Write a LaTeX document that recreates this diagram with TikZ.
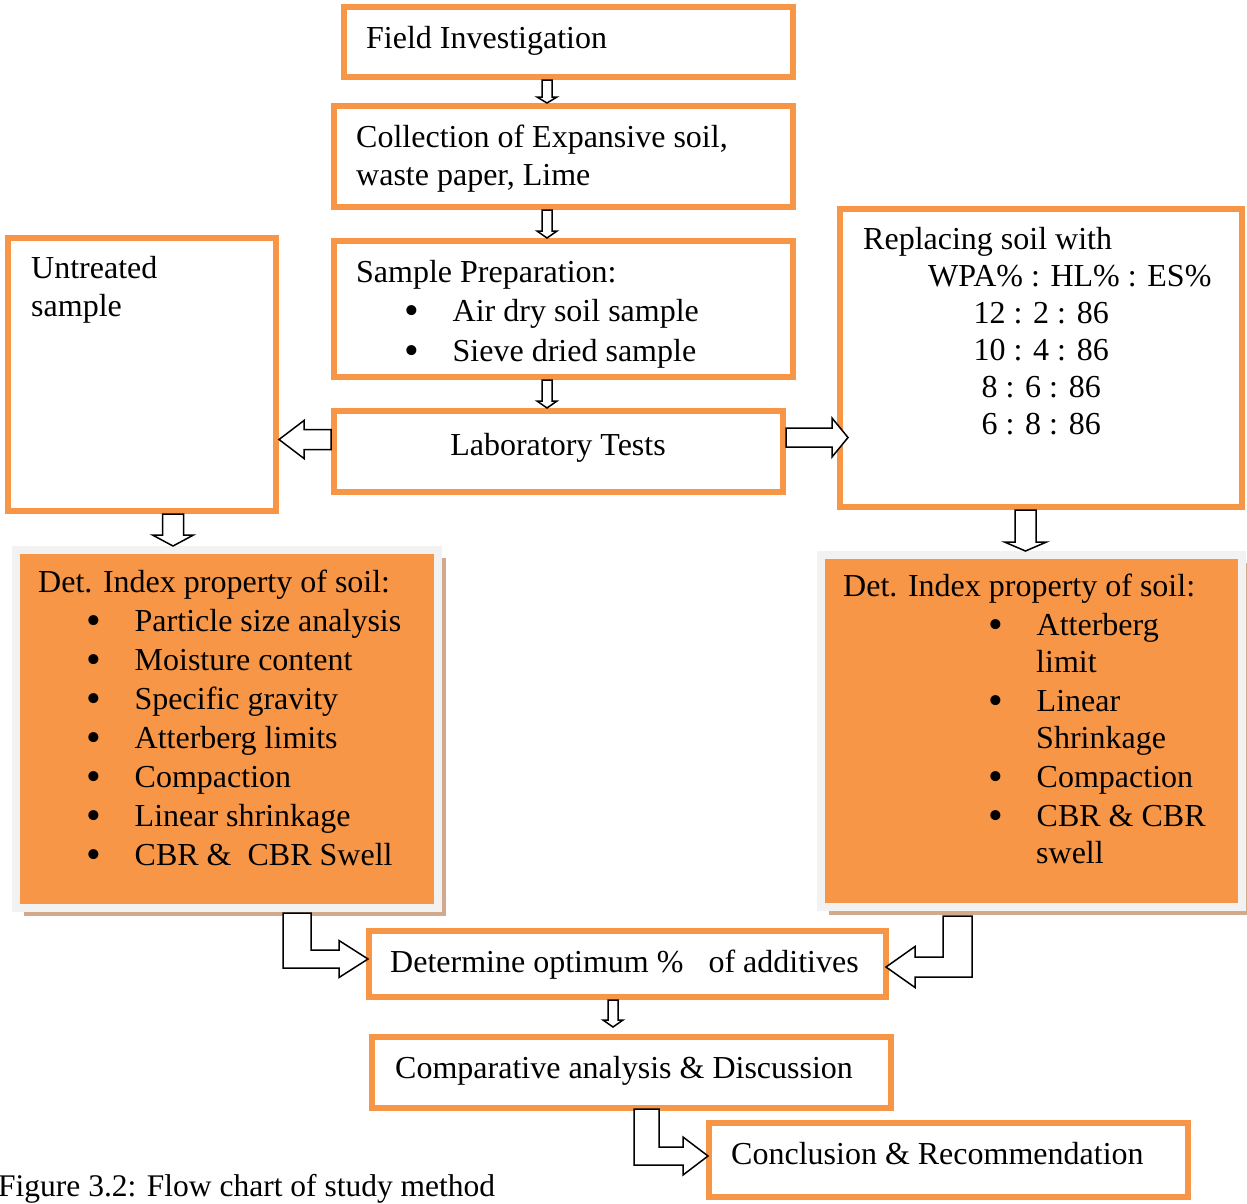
\documentclass[tikz,border=0pt]{standalone}
\usepackage{fontspec}
\setmainfont{Liberation Serif}
\usepackage{tikz}
\usetikzlibrary{calc,shadows}
\definecolor{boxorange}{HTML}{F79646}
\definecolor{framegray}{HTML}{F2F2F2}
\definecolor{shadowtan}{HTML}{D2A98C}
\tikzset{
  obox/.style={draw=boxorange,line width=6pt,inner sep=0pt},
  fbox/.style={draw=framegray,fill=boxorange,line width=8pt,inner sep=0pt,
    drop shadow={shadow xshift=8pt,shadow yshift=-8pt,fill=shadowtan,opacity=1}},
  txt/.style={anchor=base west,inner sep=0pt,align=left,font=\fontsize{32}{37}\selectfont},
  blockarrow/.style={draw=black,fill=white,line width=1.5pt,line join=miter}
}
\newcommand{\flowbox}[5][obox]{\node[#1,minimum width=#4,minimum height=#5] (#2) at (#3) {}}
\newcommand{\bul}[2][48pt]{\hspace*{#1}\makebox[48.5pt][l]{\raisebox{-3pt}{\fontsize{42}{37}\selectfont\textbullet}}#2}
\newcommand{\dnarrow}[5]{\draw[blockarrow] ($(#1)-(#3,0)$) -- ($(#1|-#2)-(#3,#5)$) -- ($(#1|-#2)-(#4,#5)$) -- (#1|-#2) -- ($(#1|-#2)+(#4,-#5)$) -- ($(#1|-#2)+(#3,-#5)$) -- ($(#1)+(#3,0)$) -- cycle}
\newcommand{\sidearrow}[5]{\draw[blockarrow] ($(#1)-(0,#3)$) -- ($(#2|-#1)-(#5,#3)$) -- ($(#2|-#1)-(#5,#4)$) -- (#2|-#1) -- ($(#2|-#1)-(#5,-#4)$) -- ($(#2|-#1)-(#5,-#3)$) -- ($(#1)+(0,#3)$) -- cycle}
\newcommand{\bentarrow}[6]{\draw[blockarrow] ($(#1)-(#3,0)$) -- ($(#1|-#2)-(#3,-#4)$) -- ($(#2)-(#6,-#4)$) -- ($(#2)-(#6,-#5)$) -- (#2) -- ($(#2)-(#6,#5)$) -- ($(#2)-(#6,#4)$) -- ($(#1|-#2)+(#3,-#4)$) -- ($(#1)+(#3,0)$) -- cycle}

\begin{document}
\begin{tikzpicture}[x=1pt,y=-1pt]
  \useasboundingbox (0,0) rectangle (1247,1203);

  % boxes
  \flowbox{field}{568.5,42}{449}{70};
  \flowbox{coll}{563.5,156.5}{459}{101};
  \flowbox{sample}{563.5,309}{459}{136};
  \flowbox{lab}{558.5,451.5}{449}{81};
  \flowbox{untreated}{142,374.5}{268}{273};
  \flowbox{repl}{1041,358}{402}{298};
  \flowbox[fbox]{leftdet}{227,729}{422}{358};
  \flowbox[fbox]{rightdet}{1031.5,731}{421}{352};
  \flowbox{detopt}{627.5,964}{517}{66};
  \flowbox{comp}{631.5,1072.5}{519}{71};
  \flowbox{concl}{948.5,1160}{479}{74};

  % texts (multi-line nodes sit on their last baseline)
  \node[txt] (fieldtxt) at (366,48) {Field Investigation};
  \node[txt,font=\fontsize{32}{38}\selectfont] (colltxt) at (356,185) {Collection of Expansive soil,\\waste paper, Lime};
  \node[txt,font=\fontsize{32}{39.5}\selectfont] (sampletxt) at (356,361) {Sample Preparation:\\\bul{Air dry soil sample}\\\bul{Sieve dried sample}};
  \node[txt,anchor=base] (labtxt) at (558,455) {Laboratory Tests};
  \node[txt,font=\fontsize{32}{38}\selectfont] (untreatedtxt) at (31,316) {Untreated\\sample};
  \node[txt] (repltxt) at (863,434) {Replacing soil with\\\hspace*{65pt}WPA\% : HL\% : ES\%\\
    \makebox[356pt]{12 : 2 : 86}\\\makebox[356pt]{10 : 4 : 86}\\\makebox[356pt]{8 : 6 : 86}\\\makebox[356pt]{6 : 8 : 86}};
  \node[txt,font=\fontsize{32}{39}\selectfont] (lefttxt) at (38,865) {Det. Index property of soil:\\
    \bul{Particle size analysis}\\\bul{Moisture content}\\\bul{Specific gravity}\\\bul{Atterberg limits}\\
    \bul{Compaction}\\\bul{Linear shrinkage}\\\bul{CBR \&\ \ CBR Swell}};
  \node[txt] (righttxt) at (843,863) {Det. Index property of soil:\\[2pt]
    \bul[145pt]{Atterberg}\\\hspace*{193pt}limit\\[2pt]\bul[145pt]{Linear}\\\hspace*{193pt}Shrinkage\\[2pt]
    \bul[145pt]{Compaction}\\[2pt]\bul[145pt]{CBR \& CBR}\\\hspace*{193pt}swell};
  \node[txt] (detopttxt) at (390,972) {Determine optimum \%\hspace{17pt} of additives};
  \node[txt] (comptxt) at (395,1078) {Comparative analysis \& Discussion};
  \node[txt] (concltxt) at (731,1164) {Conclusion \& Recommendation};
  \node[txt,font=\fontsize{31.5}{37}\selectfont] (caption) at (-2,1196) {Figure 3.2: Flow chart of study method};

  % arrows
  \coordinate (a1s) at ($(field.south)+(-21.5,0)$);
  \coordinate (a2s) at ($(coll.south)+(-16.5,0)$);
  \coordinate (a3s) at ($(sample.south)+(-16.5,0)$);
  \coordinate (a4s) at ($(untreated.south)+(31,0)$);
  \coordinate (a5s) at ($(repl.south)+(-15.5,0)$);
  \coordinate (a6s) at ($(detopt.south)+(-14.5,0)$);
  \coordinate (a6e) at ($(comp.north)+(0,-7)$);
  \coordinate (l1s) at ($(lab.west)+(0,-12)$);
  \coordinate (r1s) at ($(lab.east)+(0,-14)$);
  \coordinate (r1e) at ($(repl.west)+(11,0)$);
  \coordinate (b1s) at ($(leftdet.south)+(70,1)$);
  \coordinate (b1e) at ($(detopt.west)+(2,-5)$);
  \coordinate (b2s) at ($(rightdet.south)+(-74,5)$);
  \coordinate (b2e) at ($(detopt.east)+(-3,3)$);
  \coordinate (b3s) at ($(comp.south)+(15,-2)$);
  \coordinate (b3e) at ($(concl.west)+(2,-4)$);

  \dnarrow{a1s}{coll.north}{5}{10}{6};
  \dnarrow{a2s}{sample.north}{5}{10}{7};
  \dnarrow{a3s}{lab.north}{5}{10}{7};
  \dnarrow{a4s}{leftdet.north}{10.5}{20.5}{11};
  \dnarrow{a5s}{rightdet.north}{10.5}{21}{9};
  \dnarrow{a6s}{a6e}{5}{10}{7};
  \sidearrow{l1s}{untreated.east}{10}{19}{-25};
  \sidearrow{r1s}{r1e}{9.5}{19.5}{16};
  \bentarrow{b1s}{b1e}{14}{9}{18.5}{29};
  \bentarrow{b2s}{b2e}{-14.5}{10}{20.5}{-29};
  \bentarrow{b3s}{b3e}{12.5}{9}{19}{25};
\end{tikzpicture}
\end{document}
